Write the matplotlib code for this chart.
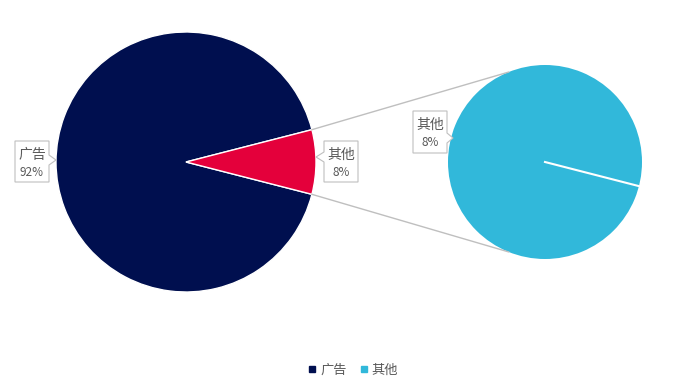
import matplotlib
matplotlib.use("Agg")
import matplotlib.pyplot as plt
import numpy as np
from matplotlib.lines import Line2D
from matplotlib.patches import Polygon

plt.rcParams["font.family"] = ["Noto Sans CJK SC", "DejaVu Sans"]

W, H = 700, 388

categories = ["广告", "其他"]
values = [92, 8]
pct_main = ["92%", "8%"]
sub_values = [8]
sub_names = ["其他"]
sub_pct = ["8%"]
colors = ["#000F4F", "#E4003B"]
sub_color = "#31B8DA"
text_color = "#595959"
edge_gray = "#BFBFBF"


def Y(y):
    # pixel row -> data y (y up)
    return H - y


def callout(ax, x0, y0, x1, y1, side, tip, py, name, pct):
    # box with a small pointer on one side, pixel coords
    notch = 5
    if side == "right":
        pts = [(x0, y0), (x1, y0), (x1, py - notch), tip, (x1, py + notch), (x1, y1), (x0, y1)]
    else:
        pts = [(x0, y0), (x1, y0), (x1, y1), (x0, y1), (x0, py + notch), tip, (x0, py - notch)]
    pts = [(px, Y(pyy)) for px, pyy in pts]
    ax.add_patch(Polygon(pts, closed=True, facecolor="white", edgecolor=edge_gray, lw=0.8, zorder=5))
    xm = (x0 + x1) / 2
    ax.text(xm, Y(y0 + 14), name, ha="center", va="center",
            fontsize=10, color=text_color, zorder=6)
    ax.text(xm, Y(y0 + 31), pct, ha="center", va="center",
            fontsize=8.5, color=text_color, zorder=6)


fig = plt.figure(figsize=(W / 100, H / 100), dpi=100)
ax = fig.add_axes([0, 0, 1, 1])

total = sum(values)
half = 360 * values[1] / total / 2

main_c = (186, Y(162))
main_r = 130
ax.pie(values, colors=colors, startangle=half, center=main_c, radius=main_r,
       wedgeprops=dict(edgecolor="white", linewidth=1))

sub_c = (545, Y(162))
sub_r = 97
ax.pie(sub_values, colors=[sub_color], startangle=-half, center=sub_c, radius=sub_r)
a = np.deg2rad(-half)
ax.plot([sub_c[0], sub_c[0] + sub_r * np.cos(a)], [sub_c[1], sub_c[1] + sub_r * np.sin(a)],
        color="white", lw=1.5, zorder=4)

# connector lines from the small wedge to the second pie
for sgn in (1, -1):
    a0 = np.deg2rad(sgn * half)
    a1 = np.deg2rad(sgn * 112)
    ax.plot([main_c[0] + main_r * np.cos(a0), sub_c[0] + sub_r * np.cos(a1)],
            [main_c[1] + main_r * np.sin(a0), sub_c[1] + sub_r * np.sin(a1)],
            color="#BFBFBF", lw=1, zorder=1)

callout(ax, 15, 141, 49, 182, "right", (56, 160), 160, categories[0], pct_main[0])
callout(ax, 324, 141, 358, 182, "left", (316, 157), 157, categories[1], pct_main[1])
callout(ax, 413, 111, 447, 153, "right", (453, 138), 138, sub_names[0], sub_pct[0])

ax.set_xlim(0, W)
ax.set_ylim(0, H)
ax.set_aspect("equal")
ax.axis("off")

handles = [Line2D([], [], marker="s", ls="", color=c, markersize=4.5) for c in [colors[0], sub_color]]
leg = fig.legend(handles, categories, loc="center", bbox_to_anchor=(352 / W, 1 - 370 / H), ncol=2,
                 frameon=False, fontsize=9.5, handletextpad=0.1, columnspacing=0.8, handlelength=1)
for t in leg.get_texts():
    t.set_color(text_color)

fig.savefig("out.png", dpi=100)
